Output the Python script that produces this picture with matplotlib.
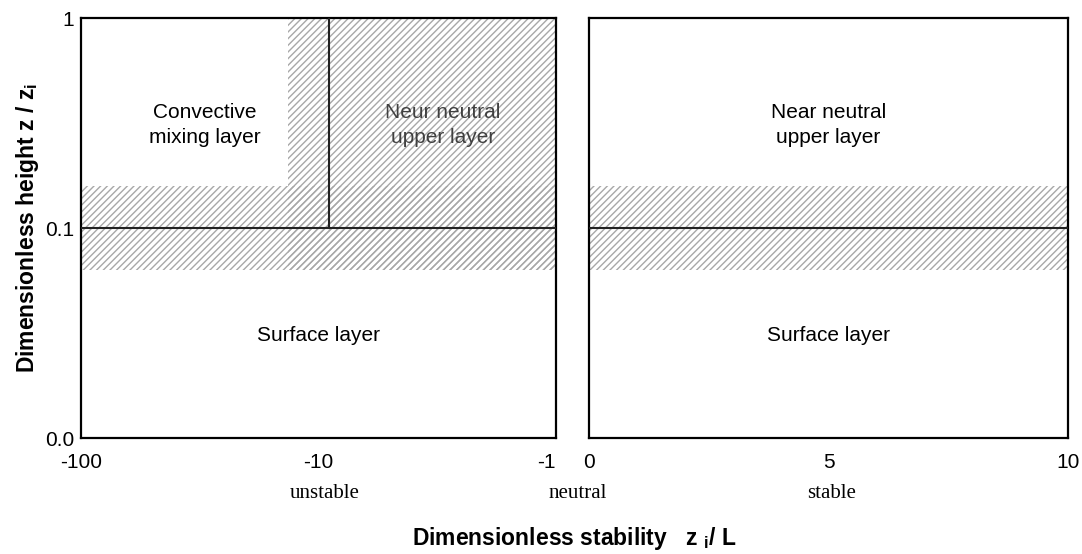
import numpy as np
import matplotlib
matplotlib.use("Agg")
import matplotlib.pyplot as plt

plt.rcParams['font.family'] = ['Liberation Sans', 'DejaVu Sans']
plt.rcParams['hatch.linewidth'] = 1.0

# ---- data ----
left_xticks = [-100, -10, -1]
left_xlabels = ["-100", "-10", "-1"]
right_xticks = [0, 5, 10]
right_xlabels = ["0", "5", "10"]
y_ticks = [0.01, 0.1, 1]
y_labels = ["0.0", "0.1", "1"]
band_y = [0.063, 0.158]          # transition band around z/zi = 0.1
vband_x = [-13.4, -1]            # near-neutral upper layer band (unstable side)
divide_x = -9                    # boundary convective / near neutral
divide_y = 0.1                   # surface layer top

W, H = 1082, 554
fig = plt.figure(figsize=(W/100, H/100), dpi=100)

def px_axes(x0, y0, x1, y1):
    return fig.add_axes([x0/W, 1 - y1/H, (x1 - x0)/W, (y1 - y0)/H])

axL = px_axes(81, 18, 556, 438)
axR = px_axes(589, 18, 1068, 438)

fwd = lambda x: -np.log10(np.abs(x))
inv = lambda y: -10.0**(-y)
axL.set_xscale('function', functions=(fwd, inv))
axL.set_xlim(-100, -1)
axR.set_xlim(0, 10)

hatch_col = '#a8a8a8'
hatch = '/////'
for ax in (axL, axR):
    ax.set_yscale('log')
    ax.set_ylim(0.01, 1)
    ax.minorticks_off()
    for s in ax.spines.values():
        s.set_linewidth(1.6)
        s.set_color('black')
    ax.axhspan(band_y[0], band_y[1], facecolor='none', edgecolor=hatch_col,
               linewidth=0, hatch=hatch, zorder=1)
    ax.axhline(divide_y, color='#222222', lw=1.5, zorder=3)

# vertical band on unstable side
axL.fill_between(vband_x, [band_y[0]]*2, [1, 1], facecolor='none',
                 edgecolor=hatch_col, linewidth=0, hatch=hatch, zorder=1)
axL.plot([divide_x, divide_x], [divide_y, 1], color='#222222', lw=1.5, zorder=3)

tick_fs = 15
axL.set_xticks(left_xticks)
axL.set_xticklabels(left_xlabels)
axL.set_yticks(y_ticks)
axL.set_yticklabels(y_labels)
axR.set_xticks(right_xticks)
axR.set_xticklabels(right_xlabels)
axR.set_yticks([])
for ax in (axL, axR):
    ax.tick_params(axis='both', length=0, labelsize=tick_fs)
    ax.tick_params(axis='x', pad=11)
axL.tick_params(axis='y', pad=5)
axL.get_xticklabels()[-1].set_ha('right')

# region labels
tfs = 15
ls = 1.4
axL.text(-30, 0.31, "Convective\nmixing layer", ha='center', va='center', fontsize=tfs, linespacing=ls)
axL.text(-3.0, 0.31, "Neur neutral\nupper layer", ha='center', va='center', fontsize=tfs,
         color='#404040', linespacing=ls, zorder=4)
axL.text(-10, 0.0306, "Surface layer", ha='center', va='center', fontsize=tfs)
axR.text(5, 0.31, "Near neutral\nupper layer", ha='center', va='center', fontsize=tfs, linespacing=ls)
axR.text(5, 0.0306, "Surface layer", ha='center', va='center', fontsize=tfs)

# stability words
serif = ['Liberation Serif', 'DejaVu Serif']
wfs = 15
fig.text(325/W, 1 - 494/H, "unstable", ha='center', va='center', fontsize=wfs, family=serif)
fig.text(578/W, 1 - 494/H, "neutral", ha='center', va='center', fontsize=wfs, family=serif)
fig.text(832/W, 1 - 494/H, "stable", ha='center', va='center', fontsize=wfs, family=serif)

fig.text(574/W, 1 - 538/H, r"Dimensionless stability   z $_\mathregular{i}$/ L", ha='center', va='center',
         fontsize=16.5, fontweight='bold')
fig.text(28/W, 1 - 228/H, r"Dimensionless height z / z$_\mathregular{i}$", ha='center', va='center',
         fontsize=16.5, fontweight='bold', rotation=90)

fig.savefig("out.png", dpi=100)
